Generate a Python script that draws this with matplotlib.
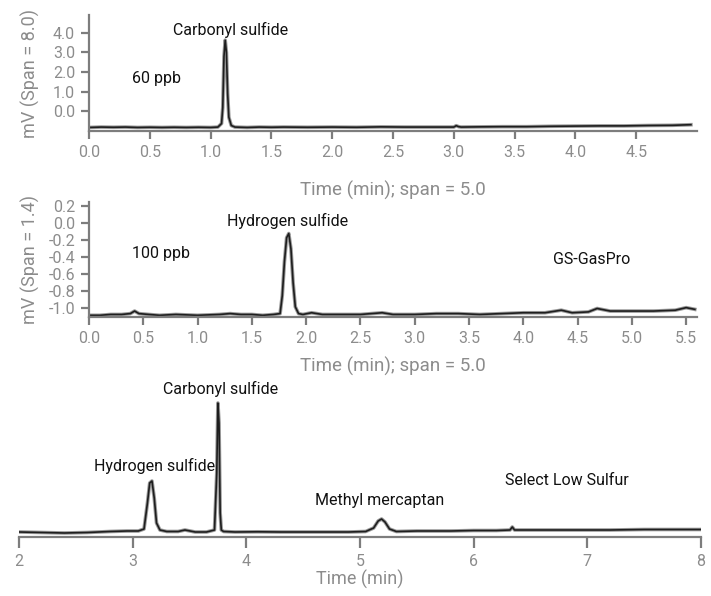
import matplotlib.pyplot as plt

plt.rcParams['font.family'] = ['Roboto', 'DejaVu Sans']
plt.rcParams['axes.unicode_minus'] = False

# GS-GasPro, carbonyl sulfide 60 ppb (time in min, signal in mV)
cos_time = [0.00, 0.10, 0.20, 0.30, 0.40, 0.50, 0.60, 0.70, 0.80, 0.90, 1.00,
            1.06, 1.09, 1.10, 1.11, 1.12, 1.13, 1.14, 1.15, 1.17, 1.20, 1.30,
            1.40, 1.50, 1.60, 1.80, 2.00, 2.20, 2.40, 2.60, 2.80, 3.00, 3.02,
            3.04, 3.06, 3.20, 3.40, 3.60, 3.80, 4.00, 4.20, 4.40, 4.60, 4.80,
            4.95]
cos_mv = [-0.82, -0.80, -0.81, -0.80, -0.82, -0.81, -0.82, -0.81, -0.82, -0.81,
          -0.82, -0.80, -0.62, 0.20, 2.80, 3.62, 3.00, 0.90, -0.30, -0.72,
          -0.80, -0.82, -0.80, -0.81, -0.80, -0.81, -0.80, -0.81, -0.79, -0.80,
          -0.80, -0.80, -0.73, -0.78, -0.80, -0.79, -0.78, -0.78, -0.76, -0.75,
          -0.74, -0.74, -0.72, -0.71, -0.68]

# GS-GasPro, hydrogen sulfide 100 ppb
h2s_time = [0.00, 0.10, 0.20, 0.30, 0.38, 0.42, 0.46, 0.55, 0.65, 0.80, 1.00,
            1.20, 1.30, 1.40, 1.50, 1.60, 1.70, 1.76, 1.78, 1.80, 1.82, 1.84,
            1.86, 1.88, 1.90, 1.93, 1.97, 2.05, 2.15, 2.30, 2.50, 2.70, 2.80,
            3.00, 3.20, 3.40, 3.60, 3.80, 4.00, 4.20, 4.35, 4.45, 4.60, 4.68,
            4.80, 5.00, 5.20, 5.40, 5.50, 5.58]
h2s_mv = [-1.08, -1.08, -1.07, -1.07, -1.06, -1.03, -1.06, -1.07, -1.08, -1.07,
          -1.08, -1.07, -1.06, -1.07, -1.07, -1.08, -1.07, -1.06, -0.85, -0.45,
          -0.17, -0.12, -0.30, -0.70, -0.98, -1.06, -1.07, -1.05, -1.07, -1.07,
          -1.07, -1.05, -1.07, -1.07, -1.06, -1.06, -1.07, -1.06, -1.05, -1.05,
          -1.02, -1.05, -1.04, -1.00, -1.03, -1.03, -1.03, -1.02, -0.99, -1.01]

# Select Low Sulfur, mixed standard (arbitrary response)
sls_time = [2.00, 2.20, 2.40, 2.60, 2.80, 2.95, 3.05, 3.10, 3.13, 3.15, 3.17,
            3.19, 3.21, 3.24, 3.30, 3.40, 3.46, 3.55, 3.65, 3.72, 3.74, 3.75,
            3.76, 3.77, 3.78, 3.80, 3.90, 4.10, 4.30, 4.50, 4.70, 4.90, 5.05,
            5.12, 5.16, 5.19, 5.22, 5.26, 5.32, 5.50, 5.80, 6.00, 6.20, 6.32,
            6.34, 6.36, 6.60, 6.90, 7.20, 7.50, 7.80, 8.00]
sls_resp = [1.0, 0.5, 0.0, 0.5, 1.5, 2.0, 2.0, 4.0, 30, 50, 52, 35, 10, 3.0,
            1.5, 1.5, 3.0, 1.0, 1.0, 3.0, 60, 130, 110, 20, 3.0, 1.5, 1.0, 1.2,
            1.0, 1.0, 1.0, 1.0, 1.5, 5.0, 12, 14, 11, 4.0, 1.5, 2.0, 2.0, 2.5,
            2.5, 3.0, 6.0, 3.0, 3.0, 3.0, 3.0, 3.5, 3.5, 3.5]

x1_ticks = [0.0, 0.5, 1.0, 1.5, 2.0, 2.5, 3.0, 3.5, 4.0, 4.5]
y1_ticks = [0.0, 1.0, 2.0, 3.0, 4.0]
x2_ticks = [0.0, 0.5, 1.0, 1.5, 2.0, 2.5, 3.0, 3.5, 4.0, 4.5, 5.0, 5.5]
y2_ticks = [-1.0, -0.8, -0.6, -0.4, -0.2, 0.0, 0.2]
x3_ticks = [2, 3, 4, 5, 6, 7, 8]

AXIS = '#7d7d7d'
LABEL = '#8c8c8c'
INK = '#111111'
NOTE = 11.5

fig = plt.figure(figsize=(7.11, 5.96), dpi=100)
ax1 = fig.add_axes([0.1252, 0.7802, 0.8551, 0.1946])
ax2 = fig.add_axes([0.1252, 0.4681, 0.8551, 0.1930])
ax3 = fig.add_axes([0.0267, 0.0990, 0.9592, 0.2332])


def trace(ax, x, y):
    ax.plot(x, y, color='#9a9a9a', lw=2.6, solid_joinstyle='round')
    ax.plot(x, y, color='#1e1e1e', lw=1.2, solid_joinstyle='round')


def style(ax, left=True):
    for side in ['top', 'right']:
        ax.spines[side].set_visible(False)
    ax.spines['left'].set_visible(left)
    for side in ['left', 'bottom']:
        ax.spines[side].set_color(AXIS)
        ax.spines[side].set_linewidth(1.6)
    ax.tick_params(colors=AXIS, labelcolor=LABEL, width=1.6, length=6,
                   labelsize=11.5, pad=4)
    ax.patch.set_visible(False)


def labels(ax, xlabel, xpos, ylabel=None, size=13.5):
    ax.set_xlabel(xlabel, color=LABEL, fontsize=size, va='center')
    ax.xaxis.set_label_coords(0.5, xpos)
    if ylabel:
        ax.set_ylabel(ylabel, color=LABEL, fontsize=13, va='center')
        ax.yaxis.set_label_coords(-0.097, 0.5)


# top: carbonyl sulfide
trace(ax1, cos_time, cos_mv)
style(ax1)
ax1.set_xlim(0, 5.0)
ax1.set_ylim(-1.0, 4.9)
ax1.set_xticks(x1_ticks)
ax1.set_xticklabels([f'{v:.1f}' for v in x1_ticks])
ax1.set_yticks(y1_ticks)
ax1.set_yticklabels([f'{v:.1f}' for v in y1_ticks])
labels(ax1, 'Time (min); span = 5.0', -0.509, 'mV (Span = 8.0)')
ax1.text(1.16, 4.16, 'Carbonyl sulfide', ha='center', va='center',
         fontsize=NOTE, color=INK)
ax1.text(0.35, 1.68, '60 ppb', ha='left', va='center', fontsize=NOTE, color=INK)

# middle: hydrogen sulfide
trace(ax2, h2s_time, h2s_mv)
style(ax2)
ax2.set_xlim(0, 5.6)
ax2.set_ylim(-1.1, 0.25)
ax2.set_xticks(x2_ticks)
ax2.set_xticklabels([f'{v:.1f}' for v in x2_ticks])
ax2.set_yticks(y2_ticks)
ax2.set_yticklabels([f'{v:.1f}' for v in y2_ticks])
labels(ax2, 'Time (min); span = 5.0', -0.426, 'mV (Span = 1.4)')
ax2.text(1.83, 0.03, 'Hydrogen sulfide', ha='center', va='center',
         fontsize=NOTE, color=INK)
ax2.text(0.40, -0.36, '100 ppb', ha='left', va='center', fontsize=NOTE, color=INK)
ax2.text(4.27, -0.43, 'GS-GasPro', ha='left', va='center', fontsize=NOTE,
         color=INK)

# bottom: Select Low Sulfur
trace(ax3, sls_time, sls_resp)
style(ax3, left=False)
ax3.set_xlim(2, 8)
ax3.set_ylim(-4, 135)
ax3.set_xticks(x3_ticks)
ax3.set_yticks([])
ax3.tick_params(axis='x', length=8, labelsize=11.5)
labels(ax3, 'Time (min)', -0.302, size=13)
for t, y, s in [(3.77, 144, 'Carbonyl sulfide'), (3.19, 67, 'Hydrogen sulfide'),
                (5.17, 32, 'Methyl mercaptan'), (6.82, 53, 'Select Low Sulfur')]:
    ax3.text(t, y, s, ha='center', va='center', fontsize=NOTE, color=INK,
             clip_on=False)

fig.savefig('out.png', dpi=100)
